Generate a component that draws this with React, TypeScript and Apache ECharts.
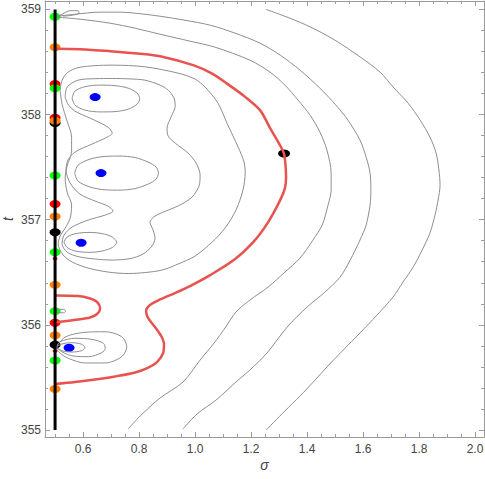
import React, { useEffect, useRef } from "react";
import * as echarts from "echarts";

type P = [number, number];

// axis ranges and ticks
const sigmaMin = 0.464;
const sigmaMax = 2.032;
const tMin = 354.933;
const tMax = 359.08;
const sigmaTicks = [0.6, 0.8, 1.0, 1.2, 1.4, 1.6, 1.8, 2.0];
const sigmaMinorTicks = [0.5, 0.55, 0.65, 0.7, 0.75, 0.85, 0.9, 0.95, 1.05, 1.1, 1.15, 1.25, 1.3, 1.35, 1.45, 1.5, 1.55, 1.65, 1.7, 1.75, 1.85, 1.9, 1.95];
const tTicks = [355, 356, 357, 358, 359];
const tMinorTicks = [355.2, 355.4, 355.6, 355.8, 356.2, 356.4, 356.6, 356.8, 357.2, 357.4, 357.6, 357.8, 358.2, 358.4, 358.6, 358.8];

// gray contours
const hookCurve: P[] = [[0.503, 358.935], [0.518, 358.945], [0.554, 358.988], [0.582, 358.988], [0.586, 358.964], [0.561, 358.945], [0.529, 358.935]];
const archCurve: P[] = [[0.507, 358.935], [0.571, 358.954], [0.661, 358.974], [0.732, 358.974], [0.804, 358.959], [0.875, 358.935], [0.964, 358.897], [1.054, 358.85], [1.143, 358.774], [1.232, 358.679], [1.304, 358.565], [1.375, 358.422], [1.446, 358.251], [1.5, 358.099], [1.546, 357.947], [1.589, 357.757], [1.611, 357.595], [1.625, 357.443], [1.628, 357.281], [1.625, 357.139], [1.611, 356.949], [1.589, 356.806], [1.554, 356.616], [1.518, 356.454], [1.464, 356.312], [1.4, 356.169], [1.329, 355.979], [1.257, 355.732], [1.196, 355.57], [1.154, 355.475], [1.075, 355.285], [1.007, 355.152], [0.957, 355.01]];
const lowerCurve: P[] = [[0.507, 358.926], [0.589, 358.907], [0.696, 358.869], [0.786, 358.821], [0.875, 358.764], [0.982, 358.698], [1.071, 358.641], [1.196, 358.517], [1.268, 358.403], [1.321, 358.28], [1.368, 358.137], [1.411, 357.994], [1.446, 357.833], [1.471, 357.662], [1.486, 357.443], [1.486, 357.281], [1.475, 357.139], [1.454, 356.949], [1.421, 356.806], [1.375, 356.635], [1.321, 356.502], [1.261, 356.359], [1.196, 356.236], [1.146, 356.122], [1.107, 355.97], [1.068, 355.827], [1.018, 355.665], [0.957, 355.456], [0.875, 355.304], [0.804, 355.133], [0.761, 355.01]];
const outerCurve: P[] = [[1.254, 359.0], [1.339, 358.916], [1.411, 358.834], [1.5, 358.707], [1.589, 358.549], [1.661, 358.403], [1.707, 358.263], [1.761, 358.108], [1.804, 357.947], [1.839, 357.785], [1.861, 357.633], [1.871, 357.472], [1.875, 357.329], [1.868, 357.186], [1.857, 357.044], [1.839, 356.873], [1.811, 356.711], [1.779, 356.549], [1.743, 356.407], [1.707, 356.264], [1.65, 356.093], [1.589, 355.922], [1.529, 355.76], [1.471, 355.599], [1.429, 355.475], [1.375, 355.323], [1.321, 355.181], [1.254, 355.0]];
const alphaLoop: P[] = [[0.518, 358.232], [0.525, 358.327], [0.546, 358.403], [0.582, 358.446], [0.643, 358.465], [0.704, 358.47], [0.821, 358.454], [0.939, 358.394], [1.0, 358.337], [1.036, 358.261], [1.082, 358.108], [1.114, 357.918], [1.154, 357.69], [1.175, 357.548], [1.179, 357.453], [1.171, 357.281], [1.146, 357.091], [1.107, 356.92], [1.061, 356.787], [1.0, 356.654], [0.939, 356.578], [0.882, 356.521], [0.821, 356.497], [0.761, 356.488], [0.689, 356.502], [0.618, 356.54], [0.561, 356.597], [0.529, 356.664], [0.511, 356.768], [0.518, 356.844], [0.536, 356.92], [0.554, 357.015], [0.559, 357.139], [0.543, 357.262], [0.536, 357.396], [0.543, 357.51], [0.559, 357.652], [0.559, 357.785], [0.543, 357.937], [0.525, 358.099], [0.518, 358.232]];
const betaLoop: P[] = [[0.536, 358.166], [0.543, 358.261], [0.582, 358.327], [0.643, 358.341], [0.704, 358.343], [0.768, 358.339], [0.821, 358.327], [0.875, 358.28], [0.904, 358.232], [0.925, 358.156], [0.929, 358.08], [0.914, 357.975], [0.9, 357.871], [0.904, 357.795], [0.929, 357.728], [0.975, 357.633], [1.004, 357.538], [1.018, 357.424], [1.014, 357.319], [0.989, 357.215], [0.946, 357.139], [0.904, 357.091], [0.857, 357.034], [0.839, 356.977], [0.85, 356.901], [0.857, 356.825], [0.846, 356.749], [0.814, 356.673], [0.768, 356.63], [0.704, 356.616], [0.643, 356.626], [0.582, 356.649], [0.543, 356.692], [0.525, 356.768], [0.532, 356.854], [0.561, 356.93], [0.618, 356.996], [0.679, 357.044], [0.707, 357.082], [0.689, 357.129], [0.643, 357.177], [0.589, 357.243], [0.554, 357.348], [0.539, 357.472], [0.546, 357.567], [0.571, 357.643], [0.632, 357.719], [0.679, 357.776], [0.704, 357.823], [0.689, 357.88], [0.625, 357.966], [0.571, 358.032], [0.546, 358.099], [0.536, 358.166]];
const topEllipse: P[] = [[0.561, 358.156], [0.571, 358.223], [0.607, 358.265], [0.661, 358.28], [0.714, 358.275], [0.761, 358.251], [0.793, 358.204], [0.802, 358.151], [0.793, 358.099], [0.761, 358.051], [0.714, 358.028], [0.661, 358.025], [0.607, 358.042], [0.571, 358.09], [0.561, 358.156]];
const midEllipse: P[] = [[0.57, 357.443], [0.582, 357.519], [0.625, 357.576], [0.679, 357.602], [0.732, 357.605], [0.786, 357.591], [0.832, 357.548], [0.861, 357.5], [0.869, 357.443], [0.861, 357.386], [0.832, 357.338], [0.786, 357.296], [0.732, 357.281], [0.679, 357.284], [0.625, 357.31], [0.582, 357.367], [0.57, 357.443]];
const lowEllipse: P[] = [[0.532, 356.787], [0.543, 356.835], [0.575, 356.868], [0.625, 356.879], [0.668, 356.868], [0.704, 356.835], [0.72, 356.784], [0.704, 356.735], [0.668, 356.702], [0.625, 356.689], [0.575, 356.7], [0.543, 356.735], [0.532, 356.787]];
const outerDrop: P[] = [[0.504, 355.789], [0.536, 355.884], [0.607, 355.929], [0.679, 355.934], [0.738, 355.887], [0.756, 355.792], [0.738, 355.697], [0.679, 355.637], [0.607, 355.637], [0.547, 355.682], [0.512, 355.744], [0.504, 355.789]];
const midDrop: P[] = [[0.504, 355.789], [0.518, 355.839], [0.571, 355.872], [0.631, 355.862], [0.673, 355.824], [0.679, 355.777], [0.667, 355.735], [0.619, 355.697], [0.565, 355.703], [0.524, 355.744], [0.504, 355.789]];
const innerDrop: P[] = [[0.504, 355.789], [0.524, 355.818], [0.56, 355.83], [0.595, 355.815], [0.607, 355.782], [0.595, 355.754], [0.56, 355.741], [0.524, 355.754], [0.504, 355.789]];
const tinyLoop: P[] = [[0.503, 356.131], [0.506, 356.147], [0.53, 356.147], [0.538, 356.131], [0.53, 356.115], [0.506, 356.119], [0.503, 356.131]];

// red contours
const redMain: P[] = [[0.5, 358.627], [0.589, 358.622], [0.696, 358.603], [0.804, 358.579], [0.875, 358.555], [0.993, 358.47], [1.061, 358.389], [1.114, 358.294], [1.179, 358.168], [1.232, 358.042], [1.268, 357.871], [1.307, 357.69], [1.318, 357.624], [1.323, 357.519], [1.325, 357.405], [1.321, 357.3], [1.304, 357.186], [1.261, 356.977], [1.214, 356.806], [1.143, 356.626], [1.054, 356.473], [0.982, 356.369], [0.932, 356.307], [0.875, 356.241], [0.839, 356.188], [0.825, 356.131], [0.832, 356.065], [0.857, 355.979], [0.879, 355.894], [0.889, 355.818], [0.886, 355.732], [0.864, 355.646], [0.829, 355.589], [0.786, 355.547], [0.714, 355.509], [0.643, 355.48], [0.571, 355.456], [0.5, 355.437]];
const redSmall: P[] = [[0.5, 356.279], [0.582, 356.274], [0.625, 356.25], [0.65, 356.217], [0.661, 356.157], [0.65, 356.103], [0.625, 356.069], [0.582, 356.05], [0.5, 356.024]];

// critical line and points
const lineSigma = 0.5;
const lineT: number[] = [355, 359];
const greenT = [358.93, 358.25, 357.42, 356.69, 356.13, 355.66];
const orangeT = [358.64, 357.94, 357.03, 356.38, 355.9, 355.39];
const redT = [358.29, 357.97, 357.15, 356.02];
const redSmallT = [356.63, 355.75];
const blackT = [357.92, 356.88, 355.81];
const bluePoints: P[] = [[0.643, 358.166], [0.664, 357.443], [0.593, 356.781], [0.55, 355.782]];
const blackPoint: P[] = [[1.318, 357.63]];

const GRAY = "#8e8e8e";
const RED = "#e8524f";
const FRAME = "#9a9a9a";
const FONT = "'Liberation Sans', Arial, sans-serif";

export default function App() {
  const ref = useRef<HTMLDivElement>(null);
  useEffect(() => {
    if (!ref.current) return;
    const chart = echarts.init(ref.current, undefined, { renderer: "svg" });

    const grayLines = [hookCurve, archCurve, lowerCurve, outerCurve, alphaLoop, betaLoop, topEllipse, midEllipse, lowEllipse, outerDrop, midDrop, innerDrop, tinyLoop];
    const lineSeries = (data: P[], color: string, width: number) => ({
      type: "line",
      data,
      showSymbol: false,
      symbol: "none",
      smooth: 0.3,
      lineStyle: { color, width },
      silent: true,
      clip: true,
    });
    const dots = (ts: number[], color: string, size: number[]) => ({
      type: "scatter",
      data: ts.map((t) => [lineSigma, t]),
      symbol: "circle",
      symbolSize: size,
      itemStyle: { color, opacity: 1 },
      silent: true,
    });

    const xBase = { type: "value", min: sigmaMin, max: sigmaMax, splitLine: { show: false } };
    const yBase = { type: "value", min: tMin, max: tMax, splitLine: { show: false } };
    const frameLine = { show: true, onZero: false, lineStyle: { color: FRAME, width: 1 } };

    chart.setOption({
      animation: false,
      backgroundColor: "#ffffff",
      textStyle: { fontFamily: FONT },
      grid: { left: 45, right: 1, top: 1, bottom: 42, containLabel: false, outerBoundsMode: "none" },
      xAxis: [
        {
          ...xBase,
          position: "bottom",
          axisLine: frameLine,
          axisTick: { show: true, inside: true, length: 5, customValues: sigmaTicks, lineStyle: { color: FRAME } },
          axisLabel: { show: true, customValues: sigmaTicks, formatter: (v: number) => v.toFixed(1), color: "#444", fontSize: 12, margin: 6, fontFamily: FONT },
          name: "σ",
          nameLocation: "middle",
          nameGap: 21,
          nameMoveOverlap: false,
          nameTextStyle: { fontStyle: "italic", fontSize: 14, color: "#444", fontFamily: FONT },
        },
        { ...xBase, position: "bottom", axisLine: { show: false }, axisTick: { show: true, inside: true, length: 3, customValues: sigmaMinorTicks, lineStyle: { color: FRAME } }, axisLabel: { show: false } },
        { ...xBase, position: "top", axisLine: frameLine, axisTick: { show: true, inside: true, length: 5, customValues: sigmaTicks, lineStyle: { color: FRAME } }, axisLabel: { show: false } },
        { ...xBase, position: "top", axisLine: { show: false }, axisTick: { show: true, inside: true, length: 3, customValues: sigmaMinorTicks, lineStyle: { color: FRAME } }, axisLabel: { show: false } },
      ],
      yAxis: [
        {
          ...yBase,
          position: "left",
          axisLine: frameLine,
          axisTick: { show: true, inside: true, length: 5, customValues: tTicks, lineStyle: { color: FRAME } },
          axisLabel: { show: true, customValues: tTicks, formatter: (v: number) => String(Math.round(v)), color: "#444", fontSize: 12, margin: 4, fontFamily: FONT },
          name: "t",
          nameLocation: "middle",
          nameGap: 30,
          nameRotate: 90,
          nameMoveOverlap: false,
          nameTextStyle: { fontStyle: "italic", fontSize: 14, color: "#444", fontFamily: FONT },
        },
        { ...yBase, position: "left", axisLine: { show: false }, axisTick: { show: true, inside: true, length: 3, customValues: tMinorTicks, lineStyle: { color: FRAME } }, axisLabel: { show: false } },
        { ...yBase, position: "right", axisLine: frameLine, axisTick: { show: true, inside: true, length: 5, customValues: tTicks, lineStyle: { color: FRAME } }, axisLabel: { show: false } },
        { ...yBase, position: "right", axisLine: { show: false }, axisTick: { show: true, inside: true, length: 3, customValues: tMinorTicks, lineStyle: { color: FRAME } }, axisLabel: { show: false } },
      ],
      series: [
        ...grayLines.map((d) => lineSeries(d, GRAY, 1)),
        lineSeries(redMain, RED, 2.5),
        lineSeries(redSmall, RED, 2.5),
        {
          type: "line",
          data: lineT.map((t) => [lineSigma, t]),
          showSymbol: false,
          symbol: "none",
          lineStyle: { color: "#000000", width: 3 },
          silent: true,
        },
        dots(blackT, "#000000", [11, 8]),
        dots(redT, "#ff0000", [11, 8]),
        dots(redSmallT, "#ff0000", [5, 3]),
        dots(orangeT, "#ff8000", [11, 8]),
        dots(greenT, "#00ff00", [11, 8]),
        {
          type: "scatter",
          data: bluePoints,
          symbol: "circle",
          symbolSize: [11, 8],
          itemStyle: { color: "#0000ff", opacity: 1 },
          silent: true,
        },
        {
          type: "scatter",
          data: blackPoint,
          symbol: "circle",
          symbolSize: [12, 8],
          itemStyle: { color: "#000000", opacity: 1 },
          silent: true,
        },
      ],
    });
    return () => chart.dispose();
  }, []);
  return <div ref={ref} style={{ position: "absolute", left: 0, top: 0, width: 485, height: 479 }} />;
}
